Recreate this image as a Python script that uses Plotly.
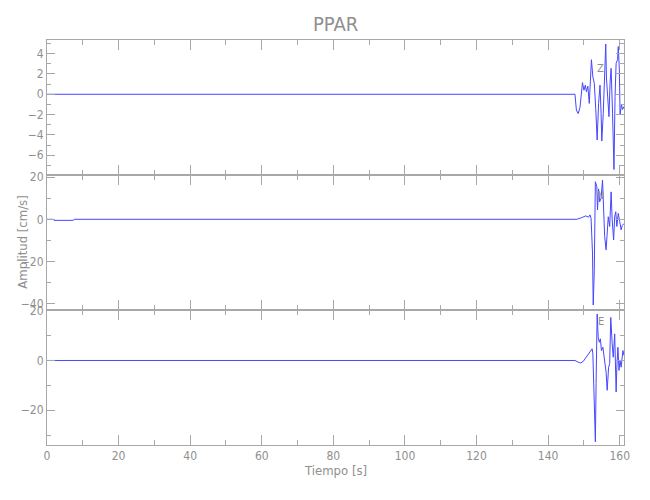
import plotly.graph_objects as go
from plotly.subplots import make_subplots

# ---- data (time in s, amplitude in cm/s) ----
t_z = [0, 12, 13, 40, 77, 78, 110, 147.5, 147.9, 148.4, 148.9, 149.3, 149.6, 150.0, 150.4, 150.7,
       151.1, 151.5, 151.9, 152.1, 152.5, 152.9, 153.3, 153.7, 154.1, 154.5, 154.8, 155.0,
       155.4, 155.8, 156.1, 156.3, 156.6, 157.0, 157.3, 157.6, 158.0, 158.4, 158.7, 159.0,
       159.4, 159.6, 159.9, 160.1, 160.5, 160.8, 161.2]
v_z = [0, 0, 0.07, 0.06, 0.07, 0, 0.02, 0, -1.55, -1.9, -1.3, 0.6, 1.15, 0.4, 0.9, 0.25,
       0.8, -0.9, 2.7, 3.4, 1.7, 1.1, -1.4, -4.5, -0.9, 0.9, -1.9, -4.6,
       -1.9, 3.0, 4.95, 1.6, -0.2, -2.2, 1.1, 2.55, -1.9, -7.4, -0.2, 3.05,
       3.4, 4.7, 2.4, -2.0, -1.0, -1.5, -1.2]

t_n = [0, 1.7, 2.0, 7.3, 7.6, 148.0, 149.4, 150.5, 151.3, 151.7, 152.0, 152.4, 152.6, 152.9,
       153.2, 153.6, 153.8, 154.1, 154.4, 154.8, 155.2, 155.5, 155.8, 156.2, 156.5, 156.8,
       157.2, 157.6, 157.9, 158.3, 158.6, 158.9, 159.2, 159.6, 160.0, 160.4, 160.7, 161.2]
v_n = [0, 0, -0.5, -0.5, 0, 0, 0.8, 1.6, 1.0, 2.1, 0.5, -16, -40.6, -24,
       17.8, 15.5, 4.4, 14.4, 8.3, 10, 18.6, -1.9, -8.2, -14.5, -5, 1.2,
       -3.4, 13, -0.2, -9.8, 1.2, 3.6, -3.4, 2.8, -1, -5, -3, -2]

t_e = [0, 147.5, 148.4, 149.1, 149.8, 150.6, 151.2, 151.9, 152.3, 152.5, 152.9, 153.2, 153.4,
       153.7, 154.0, 154.3, 154.6, 154.9, 155.3, 155.7, 156.0, 156.2, 156.5, 156.9, 157.2,
       157.5, 157.9, 158.2, 158.6, 159.0, 159.2, 159.5, 159.8, 160.1, 160.4, 160.9, 161.2]
v_e = [0, 0, -0.7, -1.0, -0.4, 1.3, 2.4, 4.0, 4.7, 2.7, -16, -32.7, -9.3,
       18.7, 9.3, 7.3, 8.7, 4.0, 5.3, 1.3, -3.3, -4.7, -12, -2.7, -1.3,
       17.3, 6.7, 1.3, 10.7, -12.7, -2.7, 5.3, -4, 0, -2.7, 4, 2]

components = ["Z", "N", "E"]
x_range = [0, 161.2]
y_ranges = [[-7.94, 5.34], [-43, 21], [-34, 20.3]]
y_dticks = [2, 20, 20]
title = "PPAR"
x_title = "Tiempo [s]"
y_title = "Amplitud [cm/s]"

FONT = "Liberation Sans Narrow, DejaVu Sans Condensed, Liberation Sans, sans-serif"
GRAY = "#8f8f8f"
AXIS = "#a8a8a8"
LINE = "rgb(70,70,255)"

fig = make_subplots(rows=3, cols=1, shared_xaxes=True, vertical_spacing=0)

series = [(t_z, v_z), (t_n, v_n), (t_e, v_e)]
for i, (tt, vv) in enumerate(series):
    fig.add_trace(go.Scatter(x=tt, y=vv, mode="lines", line=dict(color=LINE, width=1),
                             showlegend=False, hoverinfo="skip"), row=i + 1, col=1)
    fig.update_yaxes(range=y_ranges[i], dtick=y_dticks[i], ticks="inside", ticklen=8,
                     tickcolor=AXIS, showline=True, linecolor=AXIS, linewidth=1, mirror="ticks",
                     showgrid=False, zeroline=False,
                     minor=dict(ticks="inside", ticklen=4, dtick=y_dticks[i] / 2, tickcolor=AXIS, showgrid=False),
                     tickfont=dict(family=FONT, size=12, color=GRAY),
                     row=i + 1, col=1)
    fig.update_xaxes(range=x_range, dtick=20, tick0=0, ticks="inside", ticklen=10,
                     tickcolor=AXIS, showline=True, linecolor=AXIS, linewidth=1, mirror="ticks",
                     showgrid=False, zeroline=False,
                     minor=dict(ticks="inside", ticklen=5, dtick=10, tickcolor=AXIS, showgrid=False),
                     tickfont=dict(family=FONT, size=12, color=GRAY),
                     showticklabels=(i == 2),
                     row=i + 1, col=1)

label_y = [0.951, 0.615, 0.284]
for comp, ly in zip(components, label_y):
    fig.add_annotation(text=comp, x=0.969, y=ly, xref="paper", yref="paper", showarrow=False,
                       font=dict(family=FONT, size=11, color=GRAY))

fig.add_annotation(text=title, x=0.5, y=1.04, xref="paper", yref="paper", showarrow=False,
                   yanchor="middle", font=dict(family=FONT, size=20, color=GRAY))
fig.add_annotation(text=x_title, x=0.5, y=-0.062, xref="paper", yref="paper", showarrow=False,
                   yanchor="middle", font=dict(family=FONT, size=13, color=GRAY))
fig.add_annotation(text=y_title, x=-0.043, y=0.5, xref="paper", yref="paper", showarrow=False,
                   textangle=-90, xanchor="center", yanchor="middle",
                   font=dict(family=FONT, size=13, color=GRAY))

fig.update_layout(width=650, height=500, margin=dict(l=39, r=34, t=32, b=63),
                  paper_bgcolor="white", plot_bgcolor="white")

fig.write_html("out.html")
